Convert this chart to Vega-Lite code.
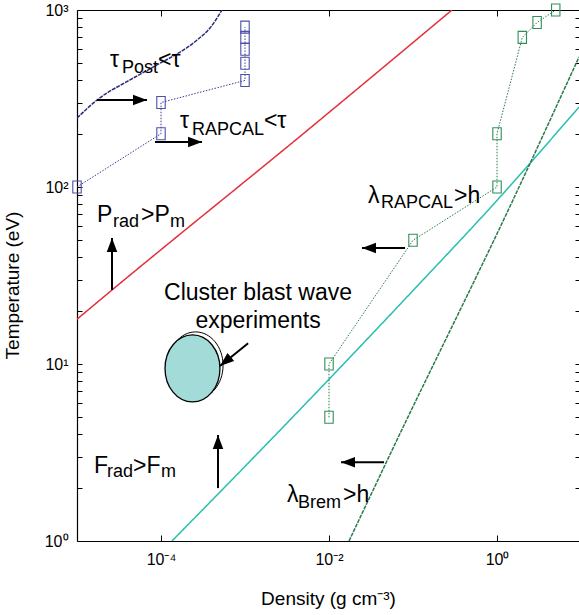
{
  "$schema": "https://vega.github.io/schema/vega-lite/v6.json",
  "width": 502,
  "height": 531,
  "autosize": {"type": "none"},
  "padding": {"left": 77, "top": 10, "right": 0, "bottom": 74},
  "background": "white",
  "config": {
    "view": {"stroke": null},
    "font": "Liberation Sans",
    "axis": {
      "grid": false,
      "labelFont": "Liberation Sans",
      "labelFontSize": 16,
      "labelColor": "#000",
      "titleFont": "Liberation Sans",
      "titleFontSize": 19,
      "titleFontWeight": "normal",
      "titleColor": "#000",
      "domainColor": "#000",
      "domainWidth": 1.2,
      "tickColor": "#000",
      "tickWidth": 1,
      "tickSize": -5,
      "labelFlush": false,
      "labelOverlap": false
    }
  },
  "datasets": {
    "curves": [
      {"series": "tau_post", "rho": 1e-5, "T": 245, "order": 1},
      {"series": "tau_post", "rho": 1.73e-5, "T": 310, "order": 2},
      {"series": "tau_post", "rho": 4.28e-5, "T": 403, "order": 3},
      {"series": "tau_post", "rho": 8.04e-5, "T": 476, "order": 4},
      {"series": "tau_post", "rho": 2.69e-4, "T": 677, "order": 5},
      {"series": "tau_post", "rho": 3.83e-4, "T": 791, "order": 6},
      {"series": "tau_post", "rho": 5.32e-4, "T": 1000, "order": 7},
      {"series": "p_rad", "rho": 1e-5, "T": 17.9, "order": 1},
      {"series": "p_rad", "rho": 1.88e-5, "T": 23.0, "order": 2},
      {"series": "p_rad", "rho": 5.94e-3, "T": 215, "order": 3},
      {"series": "p_rad", "rho": 0.291, "T": 1000, "order": 4},
      {"series": "f_rad", "rho": 1.35e-4, "T": 1, "order": 1},
      {"series": "f_rad", "rho": 1e-3, "T": 2.64, "order": 2},
      {"series": "f_rad", "rho": 1e-2, "T": 8.2, "order": 3},
      {"series": "f_rad", "rho": 0.1, "T": 26, "order": 4},
      {"series": "f_rad", "rho": 1, "T": 84, "order": 5},
      {"series": "f_rad", "rho": 9.46, "T": 283, "order": 6},
      {"series": "lambda_brem", "rho": 0.0173, "T": 1, "order": 1},
      {"series": "lambda_brem", "rho": 0.0579, "T": 3.35, "order": 2},
      {"series": "lambda_brem", "rho": 1.55, "T": 84.5, "order": 3},
      {"series": "lambda_brem", "rho": 9.46, "T": 542, "order": 4}
    ],
    "rapcal": [
      {"series": "tau_rapcal", "rho": 1e-5, "T": 100, "order": 1},
      {"series": "tau_rapcal", "rho": 1e-4, "T": 200, "order": 2},
      {"series": "tau_rapcal", "rho": 1e-4, "T": 300, "order": 3},
      {"series": "tau_rapcal", "rho": 1e-3, "T": 400, "order": 4},
      {"series": "tau_rapcal", "rho": 1e-3, "T": 500, "order": 5},
      {"series": "tau_rapcal", "rho": 1e-3, "T": 600, "order": 6},
      {"series": "tau_rapcal", "rho": 1e-3, "T": 700, "order": 7},
      {"series": "tau_rapcal", "rho": 1e-3, "T": 800, "order": 8},
      {"series": "lambda_rapcal", "rho": 0.01, "T": 5, "order": 1},
      {"series": "lambda_rapcal", "rho": 0.01, "T": 10, "order": 2},
      {"series": "lambda_rapcal", "rho": 0.1, "T": 50, "order": 3},
      {"series": "lambda_rapcal", "rho": 1, "T": 100, "order": 4},
      {"series": "lambda_rapcal", "rho": 1, "T": 200, "order": 5},
      {"series": "lambda_rapcal", "rho": 2, "T": 700, "order": 6},
      {"series": "lambda_rapcal", "rho": 3, "T": 850, "order": 7},
      {"series": "lambda_rapcal", "rho": 5, "T": 1000, "order": 8}
    ],
    "cluster": [
      {"run": "a", "rho": 2.58e-4, "T": 9.82},
      {"run": "b", "rho": 2.37e-4, "T": 9.44}
    ],
    "arrows": [
      {"rho": 1.73e-5, "T": 310, "rho2": 6.81e-5, "T2": 310, "heading": 90},
      {"rho": 8.48e-5, "T": 179.5, "rho2": 3.08e-4, "T2": 179.5, "heading": 90},
      {"rho": 2.61e-5, "T": 26.2, "rho2": 2.61e-5, "T2": 51.5, "heading": 0},
      {"rho": 4.77e-4, "T": 1.99, "rho2": 4.77e-4, "T2": 3.97, "heading": 0},
      {"rho": 0.0804, "T": 45.2, "rho2": 0.0247, "T2": 45.2, "heading": 270},
      {"rho": 0.0452, "T": 2.79, "rho2": 0.0139, "T2": 2.79, "heading": 270},
      {"rho": 1.09e-3, "T": 13.1, "rho2": 5.04e-4, "T2": 9.75, "heading": 230.6}
    ],
    "labels": [
      {"role": "main", "text": "τ", "rho": 2.47e-5, "T": 476},
      {"role": "sub", "text": "Post", "rho": 3.43e-5, "T": 441},
      {"role": "main", "text": "<τ", "rho": 9.2e-5, "T": 476},
      {"role": "main", "text": "τ", "rho": 1.68e-4, "T": 215},
      {"role": "sub", "text": "RAPCAL", "rho": 2.34e-4, "T": 197},
      {"role": "main", "text": "<τ", "rho": 1.68e-3, "T": 215},
      {"role": "main", "text": "P", "rho": 1.73e-5, "T": 63.4},
      {"role": "sub", "text": "rad", "rho": 2.68e-5, "T": 59.4},
      {"role": "main", "text": ">P", "rho": 5.78e-5, "T": 63.4},
      {"role": "sub", "text": "m", "rho": 1.28e-4, "T": 59.4},
      {"role": "main", "text": "F", "rho": 1.59e-5, "T": 2.42},
      {"role": "sub", "text": "rad", "rho": 2.28e-5, "T": 2.30},
      {"role": "main", "text": ">F", "rho": 4.64e-5, "T": 2.42},
      {"role": "sub", "text": "m", "rho": 1e-4, "T": 2.30},
      {"role": "main", "text": "λ", "rho": 0.0291, "T": 81.3},
      {"role": "sub", "text": "RAPCAL", "rho": 0.0416, "T": 76.0},
      {"role": "main", "text": ">h", "rho": 0.308, "T": 81.3},
      {"role": "main", "text": "λ", "rho": 3.16e-3, "T": 1.66},
      {"role": "sub", "text": "Brem", "rho": 4.28e-3, "T": 1.53},
      {"role": "main", "text": ">h", "rho": 0.0147, "T": 1.66},
      {"role": "caption", "text": "Cluster blast wave", "rho": 1.43e-3, "T": 23.0},
      {"role": "caption", "text": "experiments", "rho": 1.43e-3, "T": 16.0}
    ]
  },
  "encoding": {
    "x": {"field": "rho", "type": "quantitative", "scale": {"type": "log", "domain": [1e-5, 9.46], "nice": false}, "axis": null},
    "y": {"field": "T", "type": "quantitative", "scale": {"type": "log", "domain": [1, 1000], "nice": false}, "axis": null}
  },
  "resolve": {"axis": {"x": "independent", "y": "independent"}},
  "layer": [
    {
      "data": {"name": "curves"},
      "mark": {"type": "line", "strokeWidth": 1.5, "interpolate": "monotone", "clip": true},
      "encoding": {
        "x": {
          "field": "rho", "type": "quantitative",
          "scale": {"type": "log", "domain": [1e-5, 9.46], "nice": false},
          "axis": {
            "orient": "bottom",
            "values": [0.0001, 0.01, 1],
            "labelExpr": "datum.value < 0.001 ? '10⁻⁴' : datum.value < 0.1 ? '10⁻²' : '10⁰'",
            "labelPadding": 16,
            "tickSize": -6,
            "title": "Density (g cm⁻³)",
            "titleX": 251,
            "titleY": 63,
            "titleAnchor": "middle",
            "titleAlign": "center",
            "titleBaseline": "alphabetic"
          }
        },
        "y": {
          "field": "T", "type": "quantitative",
          "scale": {"type": "log", "domain": [1, 1000], "nice": false},
          "axis": {
            "orient": "left",
            "values": [1, 2, 3, 4, 5, 6, 7, 8, 9, 10, 20, 30, 40, 50, 60, 70, 80, 90, 100, 200, 300, 400, 500, 600, 700, 800, 900, 1000],
            "labelExpr": "datum.value === 1 ? '10⁰' : datum.value === 10 ? '10¹' : datum.value === 100 ? '10²' : datum.value === 1000 ? '10³' : ''",
            "labelPadding": 14,
            "title": "Temperature (eV)",
            "titleAngle": -90,
            "titleX": -65,
            "titleY": 275,
            "titleAlign": "center",
            "titleBaseline": "middle"
          }
        },
        "color": {
          "field": "series", "type": "nominal", "legend": null,
          "scale": {
            "domain": ["tau_post", "p_rad", "f_rad", "lambda_brem", "tau_rapcal", "lambda_rapcal"],
            "range": ["#2a2a7c", "#e2303c", "#26bfae", "#2b7a4b", "#3a3a8e", "#2b7a4b"]
          }
        },
        "strokeDash": {
          "field": "series", "type": "nominal", "legend": null,
          "scale": {"domain": ["tau_post", "p_rad", "f_rad", "lambda_brem"], "range": [[4, 1], [1, 0], [1, 0], [4, 1]]}
        },
        "strokeWidth": {
          "field": "series", "type": "nominal", "legend": null,
          "scale": {"domain": ["tau_post", "p_rad", "f_rad", "lambda_brem"], "range": [1, 1.6, 1.8, 1.1]}
        },
        "order": {"field": "order", "type": "quantitative"}
      }
    },
    {
      "data": {"name": "rapcal"},
      "mark": {"type": "line", "strokeWidth": 1, "strokeDash": [1.5, 1.5], "clip": true},
      "encoding": {
        "color": {
          "field": "series", "type": "nominal", "legend": null,
          "scale": {
            "domain": ["tau_post", "p_rad", "f_rad", "lambda_brem", "tau_rapcal", "lambda_rapcal"],
            "range": ["#2a2a7c", "#e2303c", "#26bfae", "#2b7a4b", "#3a3a8e", "#2b7a4b"]
          }
        },
        "order": {"field": "order", "type": "quantitative"}
      }
    },
    {
      "data": {"name": "rapcal"},
      "mark": {"type": "point", "shape": "M -0.7 -1 L 0.7 -1 L 0.7 1 L -0.7 1 Z", "size": 144, "filled": false, "strokeWidth": 1.1, "opacity": 1},
      "encoding": {
        "x": {
          "field": "rho", "type": "quantitative",
          "scale": {"type": "log", "domain": [1e-5, 9.46], "nice": false},
          "axis": {"orient": "top", "values": [0.0001, 0.01, 1], "labels": false, "tickSize": -6, "title": null}
        },
        "y": {
          "field": "T", "type": "quantitative",
          "scale": {"type": "log", "domain": [1, 1000], "nice": false},
          "axis": {
            "orient": "right",
            "values": [1, 2, 3, 4, 5, 6, 7, 8, 9, 10, 20, 30, 40, 50, 60, 70, 80, 90, 100, 200, 300, 400, 500, 600, 700, 800, 900, 1000],
            "labels": false, "domain": false, "tickSize": -4, "title": null
          }
        },
        "stroke": {
          "field": "series", "type": "nominal", "legend": null,
          "scale": {"domain": ["tau_rapcal", "lambda_rapcal"], "range": ["#4d4daa", "#2f8f55"]}
        }
      }
    },
    {
      "data": {"name": "cluster"},
      "transform": [{"filter": "datum.run === 'a'"}],
      "mark": {"type": "point", "shape": "M -0.82 0 A 0.82 1 0 1 1 0.82 0 A 0.82 1 0 1 1 -0.82 0 Z", "size": 4489, "filled": false, "stroke": "#000", "strokeWidth": 1, "opacity": 1}
    },
    {
      "data": {"name": "cluster"},
      "transform": [{"filter": "datum.run === 'b'"}],
      "mark": {"type": "point", "shape": "M -0.82 0 A 0.82 1 0 1 1 0.82 0 A 0.82 1 0 1 1 -0.82 0 Z", "size": 4489, "filled": true, "fill": "#a3dbd8", "stroke": "#000", "strokeWidth": 1.3, "opacity": 1, "fillOpacity": 1}
    },
    {
      "data": {"name": "arrows"},
      "mark": {"type": "rule", "color": "#000", "strokeWidth": 2, "strokeCap": "butt"},
      "encoding": {
        "x2": {"field": "rho2"},
        "y2": {"field": "T2"}
      }
    },
    {
      "data": {"name": "arrows"},
      "mark": {"type": "point", "shape": "M 0 0 L 0.75 2 L -0.75 2 Z", "size": 196, "filled": true, "color": "#000", "opacity": 1},
      "encoding": {
        "x": {"field": "rho2", "type": "quantitative", "scale": {"type": "log", "domain": [1e-5, 9.46], "nice": false}, "axis": null},
        "y": {"field": "T2", "type": "quantitative", "scale": {"type": "log", "domain": [1, 1000], "nice": false}, "axis": null},
        "angle": {"field": "heading", "type": "quantitative", "scale": {"domain": [0, 360], "range": [0, 360]}}
      }
    },
    {
      "data": {"name": "labels"},
      "transform": [{"filter": "datum.role === 'main'"}],
      "mark": {"type": "text", "align": "left", "baseline": "alphabetic", "fontSize": 23, "font": "Liberation Sans", "color": "#000"},
      "encoding": {"text": {"field": "text"}}
    },
    {
      "data": {"name": "labels"},
      "transform": [{"filter": "datum.role === 'sub'"}],
      "mark": {"type": "text", "align": "left", "baseline": "alphabetic", "fontSize": 18, "font": "Liberation Sans", "color": "#000"},
      "encoding": {"text": {"field": "text"}}
    },
    {
      "data": {"name": "labels"},
      "transform": [{"filter": "datum.role === 'caption'"}],
      "mark": {"type": "text", "align": "center", "baseline": "alphabetic", "fontSize": 23, "font": "Liberation Sans", "color": "#000"},
      "encoding": {"text": {"field": "text"}}
    }
  ]
}
